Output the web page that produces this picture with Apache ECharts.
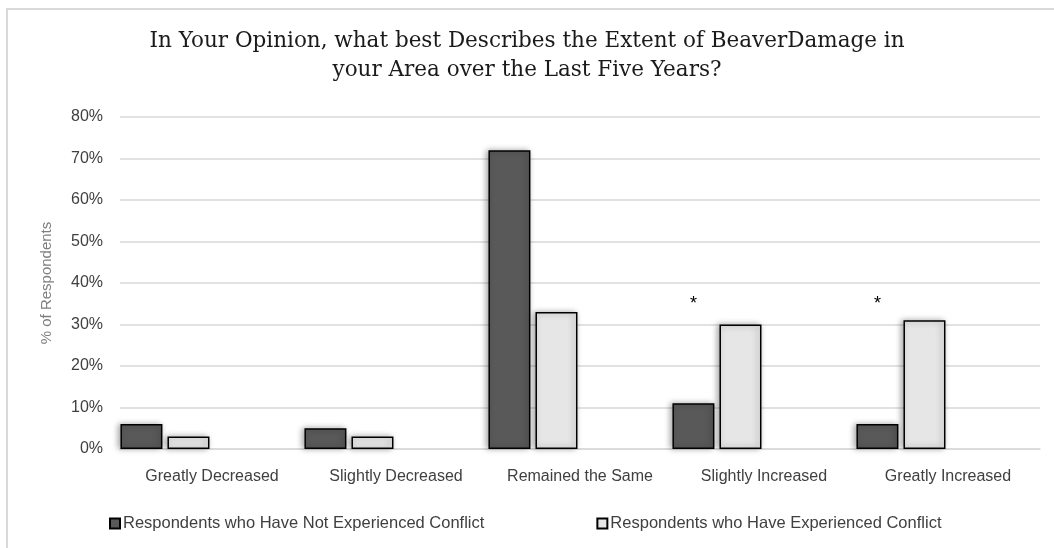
<!DOCTYPE html>
<html>
<head>
<meta charset="utf-8">
<script src="https://cdn.jsdelivr.net/npm/echarts@6/dist/echarts.min.js"></script>
<style>
html,body{margin:0;padding:0;background:#fff;overflow:hidden;}
#frame{position:absolute;left:6px;top:8px;width:1060px;height:560px;border-top:2px solid #d9d9d9;border-left:2px solid #d9d9d9;box-sizing:border-box;}
#c{position:absolute;left:0;top:0;width:1054px;height:548px;}
</style>
</head>
<body>
<div id="frame"></div>
<div id="c"></div>
<script>
const categories = ['Greatly Decreased', 'Slightly Decreased', 'Remained the Same', 'Slightly Increased', 'Greatly Increased'];
const notExperienced = [6, 5, 72, 11, 6];
const experienced = [3, 3, 33, 30, 31];
const seriesNames = ['Respondents who Have Not Experienced Conflict', 'Respondents who Have Experienced Conflict'];
const yTicks = { min: 0, max: 80, interval: 10 };
const asteriskMarks = [['Slightly Increased', 36], ['Greatly Increased', 36]];
const titleText = 'In Your Opinion, what best Describes the Extent of BeaverDamage in\nyour Area over the Last Five Years?';
const yAxisName = '% of Respondents';

const chart = echarts.init(document.getElementById('c'), null, { renderer: 'canvas' });
const barBase = {
  type: 'bar',
  barWidth: 42,
  barGap: '12%',
  animation: false
};
chart.setOption({
  backgroundColor: 'transparent',
  title: {
    text: titleText,
    left: 'center',
    top: 22,
    textStyle: {
      fontFamily: 'DejaVu Serif',
      fontWeight: 'normal',
      fontSize: 21.5,
      lineHeight: 29,
      color: '#1a1a1a'
    }
  },
  legend: {
    data: seriesNames,
    left: 104,
    top: 510,
    itemWidth: 10,
    itemHeight: 10,
    itemGap: 112,
    icon: 'rect',
    textStyle: { fontFamily: 'Liberation Sans', fontSize: 16.5, color: '#404040', padding: [0, 0, 0, -2] }
  },
  grid: { left: 120, right: 14, top: 117, bottom: 99 },
  xAxis: {
    type: 'category',
    data: categories,
    axisTick: { show: false },
    axisLine: { lineStyle: { color: '#d9d9d9', width: 1.5 } },
    axisLabel: { interval: 0, hideOverlap: false, fontFamily: 'Liberation Sans', fontSize: 16, color: '#404040', margin: 20 }
  },
  yAxis: {
    type: 'value',
    min: yTicks.min,
    max: yTicks.max,
    interval: yTicks.interval,
    name: yAxisName,
    nameLocation: 'middle',
    nameGap: 66,
    nameRotate: 90,
    nameTextStyle: { fontFamily: 'Liberation Sans', fontSize: 15, color: '#7f7f7f' },
    axisLine: { show: false },
    axisTick: { show: false },
    splitLine: { lineStyle: { color: '#d9d9d9', width: 1.5 } },
    axisLabel: { formatter: '{value}%', fontFamily: 'Liberation Sans', fontSize: 16, color: '#404040', margin: 17 }
  },
  series: [
    Object.assign({}, barBase, {
      name: seriesNames[0],
      data: notExperienced,
      itemStyle: { color: '#595959', borderColor: '#000', borderWidth: 1.5, shadowColor: 'rgba(0,0,0,0.35)', shadowBlur: 6, shadowOffsetX: -2 },
      markPoint: {
        symbol: 'circle',
        symbolSize: 0,
        silent: true,
        label: { show: true, formatter: '*', position: 'inside', fontFamily: 'Liberation Sans', fontSize: 18, color: '#000', offset: [0, 4] },
        data: asteriskMarks.map(m => ({ coord: m }))
      }
    }),
    Object.assign({}, barBase, {
      name: seriesNames[1],
      data: experienced,
      itemStyle: { color: '#e7e6e6', borderColor: '#000', borderWidth: 1.5, shadowColor: 'rgba(0,0,0,0.35)', shadowBlur: 6, shadowOffsetX: -2 }
    }),
    Object.assign({}, barBase, { name: 'pad1', data: categories.map(() => null) }),
    Object.assign({}, barBase, { name: 'pad2', data: categories.map(() => null) })
  ]
});
</script>
</body>
</html>
